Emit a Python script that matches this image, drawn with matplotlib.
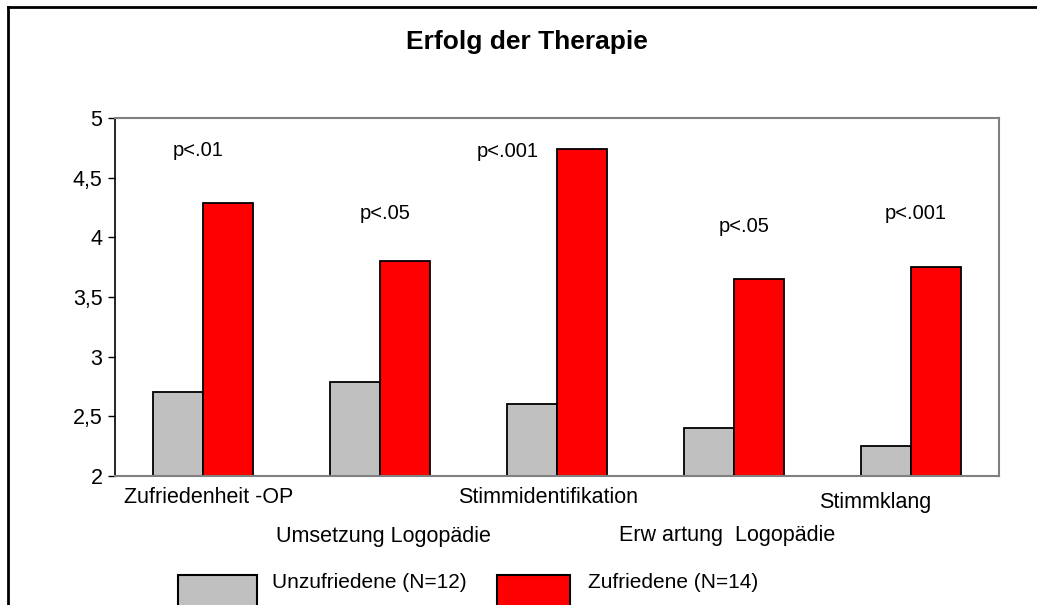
import numpy as np
import matplotlib.pyplot as plt
from matplotlib.patches import Rectangle
from matplotlib.lines import Line2D
from matplotlib.ticker import FuncFormatter
import matplotlib.transforms as mtransforms

plt.rcParams['font.family'] = ['Liberation Sans', 'DejaVu Sans']

# data
categories = ['Zufriedenheit -OP', 'Umsetzung Logopädie', 'Stimmidentifikation',
              'Erw artung  Logopädie', 'Stimmklang']
unzufrieden = [2.7, 2.79, 2.6, 2.4, 2.25]
zufrieden = [4.29, 3.8, 4.74, 3.65, 3.75]
p_labels = ['p<.01', 'p<.05', 'p<.001', 'p<.05', 'p<.001']
series_names = ['Unzufriedene (N=12)', 'Zufriedene (N=14)']

# label placement (layout only)
p_pos = [(-0.03, 4.73), (1.03, 4.20), (1.72, 4.72), (3.06, 4.09), (4.03, 4.20)]
cat_pos = [(0.03, -0.059), (1.016, -0.170), (1.95, -0.059), (2.96, -0.165), (3.80, -0.075)]

W, H = 1037, 605
fig = plt.figure(figsize=(W / 100, H / 100), dpi=100)
ax = fig.add_axes([115 / W, 1 - 476 / H, (999 - 115) / W, (476 - 118) / H])

x = np.arange(len(categories))
bw = 0.283
ax.bar(x - bw / 2, unzufrieden, bw, color='#C0C0C0', edgecolor='black', linewidth=1.3, zorder=2)
ax.bar(x + bw / 2, zufrieden, bw, color='#FF0000', edgecolor='black', linewidth=1.3, zorder=2)

ax.set_xlim(-0.5, len(categories) - 0.5)
ax.set_ylim(2, 5)
ax.set_yticks(np.arange(2, 5.01, 0.5))
ax.yaxis.set_major_formatter(FuncFormatter(lambda v, p: ('%g' % v).replace('.', ',')))
ax.set_xticks([])
ax.tick_params(axis='y', direction='out', length=5, width=1, colors='black',
               labelsize=15.5, pad=4)
for s in ['top', 'right', 'bottom']:
    ax.spines[s].set_color('#808080')
    ax.spines[s].set_linewidth(1.5)
ax.spines['left'].set_color('black')
ax.spines['left'].set_linewidth(1.2)

for lab, (px, py) in zip(p_labels, p_pos):
    ax.text(px, py, lab, ha='center', va='center', fontsize=14.5)

trans = mtransforms.blended_transform_factory(ax.transData, ax.transAxes)
for lab, (px, py) in zip(categories, cat_pos):
    ax.text(px, py, lab, ha='center', va='center', fontsize=15.5, transform=trans)

fig.text(527 / W, 1 - 42 / H, 'Erfolg der Therapie', ha='center', va='center',
         fontsize=19, fontweight='bold')

# legend (bottom, partly cut off like the original)
colors = ['#C0C0C0', '#FF0000']
boxes = [(178, 257, 272), (497, 570, 588)]
for name, c, (x0, x1, tx) in zip(series_names, colors, boxes):
    fig.add_artist(Rectangle((x0 / W, -0.05), (x1 - x0) / W, (605 - 575) / H + 0.05,
                             transform=fig.transFigure, facecolor=c,
                             edgecolor='black', linewidth=1.5))
    fig.text(tx / W, 1 - 582 / H, name, ha='left', va='center', fontsize=15)

# outer frame (left and top edges visible)
fig.add_artist(Line2D([8 / W, 8 / W], [-0.01, 1 - 7 / H], transform=fig.transFigure,
                      color='black', linewidth=2))
fig.add_artist(Line2D([8 / W, 1.01], [1 - 7 / H, 1 - 7 / H], transform=fig.transFigure,
                      color='black', linewidth=2))

fig.savefig('out.png', dpi=100)
